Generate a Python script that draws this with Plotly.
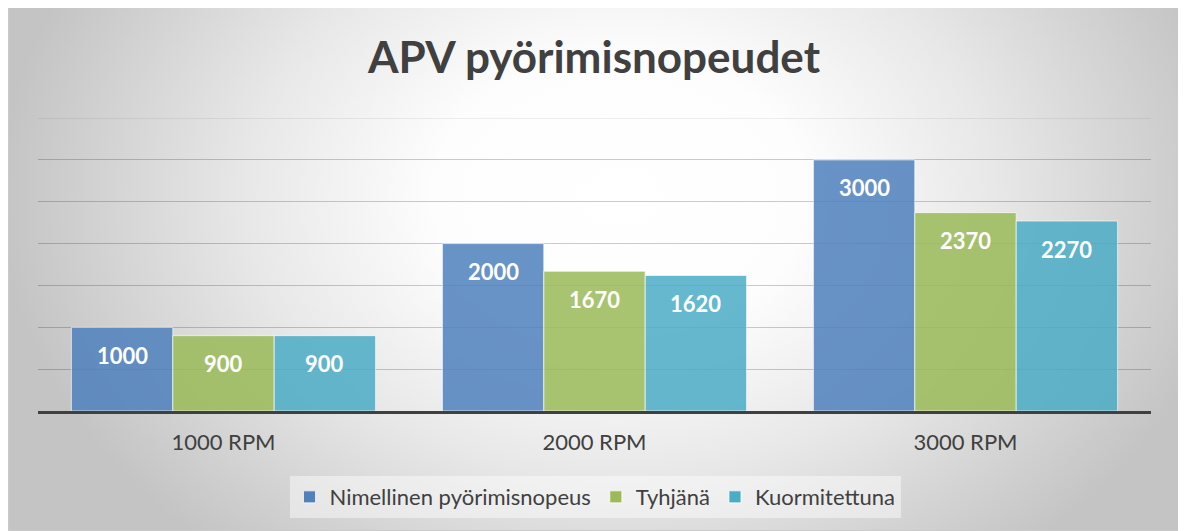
import base64
import plotly.graph_objects as go

categories = ["1000 RPM", "2000 RPM", "3000 RPM"]
series_names = ["Nimellinen pyörimisnopeus", "Tyhjänä", "Kuormitettuna"]
nimellinen = [1000, 2000, 3000]
tyhjana = [900, 1670, 2370]
kuormitettuna = [900, 1620, 2270]
series_values = [nimellinen, tyhjana, kuormitettuna]
colors = ["#4F81BD", "#9BBB59", "#4BACC6"]
y_ticks = [500, 1000, 1500, 2000, 2500, 3000]

# figure is shown with an 8px page offset; layout values are in figure pixels
W, H = 1186, 531
ML, MR, MT, MB = 30, 43, 110, 128
BARGAP = 0.18
FONT = "Lato"
TXT = "#404040"

fig = go.Figure()
for name, vals, col in zip(series_names, series_values, colors):
    fig.add_trace(go.Bar(
        name=name, x=categories, y=vals,
        marker=dict(color=col, opacity=0.85,
                    line=dict(color="rgba(255,255,255,0.7)", width=1)),
        hoverinfo="skip",
    ))

# data labels (inside end) positioned from the data through the axes
plot_w = W - ML - MR
bar_w = plot_w / len(categories) * (1 - BARGAP) / len(series_values)
for i, vals in enumerate(series_values):
    off = (i - (len(series_values) - 1) / 2) * bar_w
    for c, v in zip(categories, vals):
        fig.add_annotation(x=c, y=v, text=f"<b>{v}</b>", showarrow=False,
                           xshift=off, yshift=-28, yanchor="middle",
                           font=dict(family=FONT, size=22, color="white"))

# background gradient
svg = (
    "<svg xmlns='http://www.w3.org/2000/svg' width='1173' height='525' "
    "viewBox='0 0 1173 525' preserveAspectRatio='none'>"
    "<defs><radialGradient id='g' gradientUnits='userSpaceOnUse' "
    "cx='612' cy='190' r='620' "
    "gradientTransform='translate(612 190) scale(1 0.75) translate(-612 -190)'>"
    "<stop offset='0' stop-color='#ffffff'/>"
    "<stop offset='0.3' stop-color='#fdfdfd'/>"
    "<stop offset='0.6' stop-color='#e8e8e8'/>"
    "<stop offset='1' stop-color='#c4c4c4'/>"
    "</radialGradient></defs>"
    "<rect x='0.5' y='0.5' width='1172' height='524' fill='url(#g)' "
    "stroke='#cacaca' stroke-width='1'/></svg>"
)
src = "data:image/svg+xml;base64," + base64.b64encode(svg.encode()).decode()
plot_h = H - MT - MB
bx0, bx1, by0, by1 = 0, 1173, -2, 523
fig.add_layout_image(
    source=src, xref="paper", yref="paper",
    x=(bx0 - ML) / plot_w, y=((H - MB) - by0) / plot_h,
    sizex=(bx1 - bx0) / plot_w, sizey=(by1 - by0) / plot_h,
    xanchor="left", yanchor="top", sizing="stretch", layer="below",
)

# top gridline
fig.add_shape(type="line", xref="paper", yref="y", x0=0, x1=1, y0=3500, y1=3500,
              line=dict(color="rgba(0,0,0,0.12)", width=1), layer="below")

fig.update_layout(
    width=W, height=H,
    margin=dict(l=ML, r=MR, t=MT, b=MB),
    paper_bgcolor="white", plot_bgcolor="rgba(0,0,0,0)",
    barmode="group", bargap=BARGAP, bargroupgap=0,
    title=dict(text="<b>APV pyörimisnopeudet</b>", x=(594 - 8) / W, xanchor="center",
               y=1 - 50 / H, yanchor="middle", yref="container",
               font=dict(family=FONT, size=44, color=TXT)),
    font=dict(family=FONT, color=TXT),
    legend=dict(orientation="h", x=(595 - 8 - ML) / plot_w, xanchor="center",
                y=-0.222, yanchor="top",
                bgcolor="rgba(255,255,255,0.45)", font=dict(size=22, color=TXT),
                itemclick=False, itemdoubleclick=False),
    showlegend=True,
)
fig.update_xaxes(showline=True, linecolor="#404040", linewidth=3, ticks="",
                 tickfont=dict(size=22, color=TXT), showgrid=False,
                 ticklabelstandoff=10)
fig.update_yaxes(range=[0, 3500.5], tickvals=y_ticks, showticklabels=False,
                 gridcolor="rgba(0,0,0,0.2)", gridwidth=1, zeroline=False, showline=False)

fig.write_html("out.html")
